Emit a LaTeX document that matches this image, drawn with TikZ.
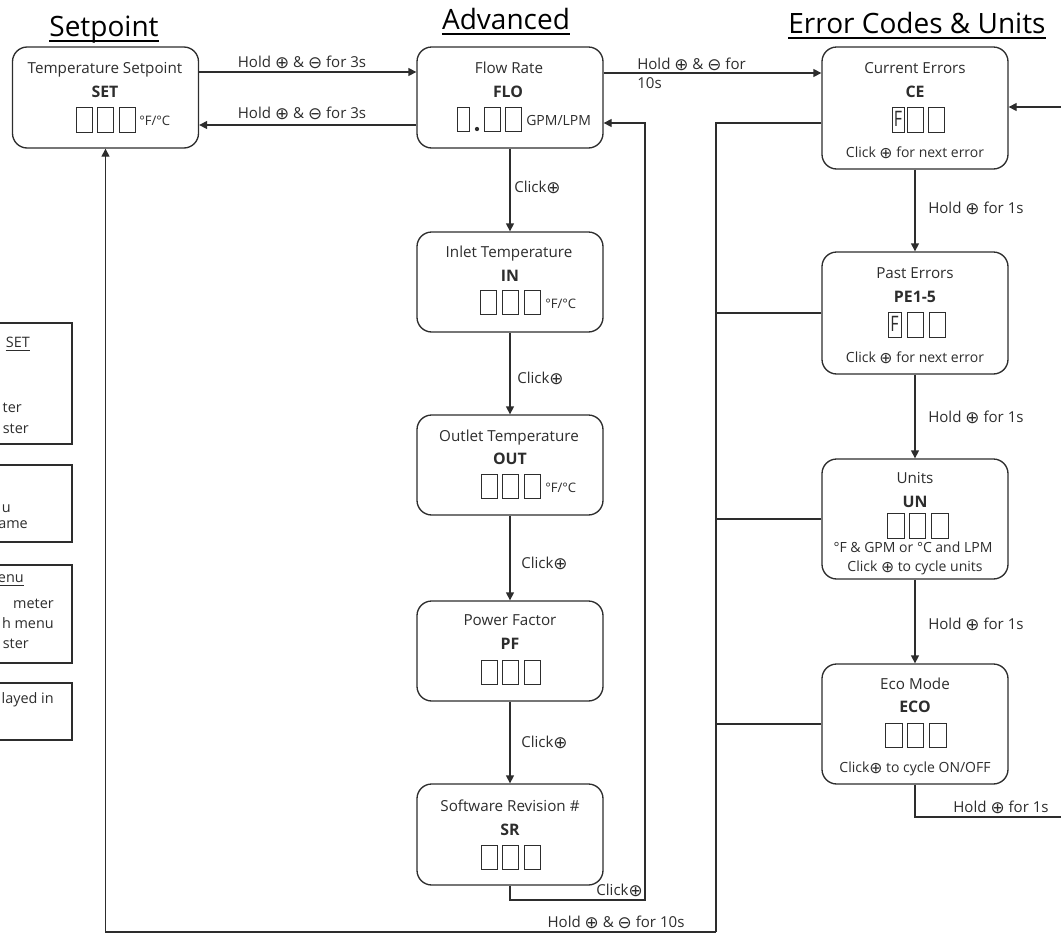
\documentclass[tikz,border=0pt]{standalone}
\usepackage{fontspec}
\setmainfont{Open Sans}
\newfontfamily\symf{DejaVu Sans}
\usetikzlibrary{arrows.meta}
\definecolor{ink}{RGB}{45,45,45}
\newcommand\cplus{{\symf\raisebox{-0.15ex}{\scalebox{1.12}{⊕}}}}
\newcommand\cminus{{\symf\raisebox{-0.15ex}{\scalebox{1.12}{⊖}}}}
\begin{document}
\begin{tikzpicture}[x=0.75pt,y=-0.75pt,
  box/.style={draw=ink,line width=1pt,rounded corners=11pt,minimum width=139.5pt,inner sep=0pt},
  legbox/.style={draw=ink,line width=0.9pt},
  dg/.style={draw=ink,line width=0.65pt},
  conn/.style={draw=ink,line width=1pt},
  arr/.style={conn,-{Triangle[length=6pt,width=6pt]}},
  lab/.style={font=\fontsize{11.3}{13}\selectfont,text=ink,inner sep=0pt},
  ttl/.style={font=\fontsize{11.4}{13}\selectfont,text=ink,inner sep=0pt},
  sml/.style={font=\fontsize{10.5}{12}\selectfont,text=ink,inner sep=0pt},
  unit/.style={font=\fontsize{9.8}{12}\selectfont,text=ink,inner sep=0pt},
  code/.style={font=\fontsize{11.9}{13}\selectfont\bfseries,text=ink,inner sep=0pt},
  head/.style={font=\fontsize{21}{24}\selectfont,text=black,inner sep=0pt},
  leg/.style={font=\fontsize{10.8}{12}\selectfont,text=ink,inner sep=0pt,anchor=base east},
  fch/.style={font=\fontsize{16}{16}\selectfont\addfontfeatures{FakeStretch=0.75},text=ink,inner sep=0pt}
]
\useasboundingbox (0,0) rectangle (1061,936);

% ---------- titles ----------
\node[head,anchor=base] (h1) at (104,36) {Setpoint};
\node[head,anchor=base] (h2) at (506,29) {Advanced};
\node[head,anchor=base] (h3) at (917,33) {Error Codes \& Units};
\foreach \h in {h1,h2,h3}{
  \draw[line width=1.5pt] ([yshift=-4pt]\h.base west) -- ([yshift=-4pt]\h.base east);
}

% ---------- legend (cut at left edge) ----------
\draw[legbox] (-40,323) rectangle (72,444);
\draw[legbox] (-40,465) rectangle (72,542);
\draw[legbox] (-40,565) rectangle (72,663);
\draw[legbox] (-40,683) rectangle (72,740);
\node[leg] (l1) at (30,347) {SET};
\draw[line width=0.7pt,ink] ([yshift=-2.5pt]l1.base west) -- ([yshift=-2.5pt]l1.base east);
\node[leg] (l2) at (22,412) {ter};
\node[leg] (l3) at (29,433) {ster};
\node[leg] (l4) at (11,512) {u};
\node[leg] (l5) at (28,528) {ame};
\node[leg] (l6) at (24,582) {enu};
\draw[line width=0.7pt,ink] ([yshift=-2.5pt]l6.base west) -- ([yshift=-2.5pt]l6.base east);
\node[leg] (l7) at (54,608) {meter};
\node[leg] (l8) at (54,628) {h menu};
\node[leg] (l9) at (29,648) {ster};
\node[leg] (l10) at (54,703) {layed in};

% ---------- boxes ----------
\node[box,minimum height=75.75pt] (setb) at (105.5,97.5) {};
\node[box,minimum height=75.75pt] (flo) at (510,97.5) {};
\node[box,minimum height=75pt] (in) at (510,282) {};
\node[box,minimum height=75pt] (out) at (510,465) {};
\node[box,minimum height=75pt] (pf) at (510,651) {};
\node[box,minimum height=75.75pt] (sr) at (510,834.5) {};
\node[box,minimum height=91.5pt] (ce) at (915,108) {};
\node[box,minimum height=91.5pt] (pe) at (915,313) {};
\node[box,minimum height=90pt] (un) at (915,519) {};
\node[box,minimum height=90pt] (eco) at (915,724) {};

% ---------- box contents ----------
% Setpoint
\node[ttl,anchor=base] (t1) at (105,73) {Temperature Setpoint};
\node[code,anchor=base] (c1) at (105,97) {SET};
\draw[dg] (76,107) rectangle (92,132) (97,107) rectangle (113,132) (119,107) rectangle (135,132);
\node[unit,anchor=base west] (u1) at (139,125) {°F/°C};
% Flow rate
\node[ttl,anchor=base] (t2) at (509,73) {Flow Rate};
\node[code,anchor=base] (c2) at (508,97) {FLO};
\draw[dg] (457,107) rectangle (469,131) (484,107) rectangle (500,131) (505,107) rectangle (521,131);
\fill[ink] (477,129) circle (1.6pt);
\node[sml,anchor=base west] (u2) at (526,125) {GPM/LPM};
% Inlet
\node[ttl,anchor=base] (t3) at (509,257) {Inlet Temperature};
\node[code,anchor=base] (c3) at (510,281) {IN};
\draw[dg] (480,290) rectangle (496,314) (502,290) rectangle (518,314) (524,290) rectangle (540,314);
\node[unit,anchor=base west] (u3) at (545,308) {°F/°C};
% Outlet
\node[ttl,anchor=base] (t4) at (509,441) {Outlet Temperature};
\node[code,anchor=base] (c4) at (510,464) {OUT};
\draw[dg] (481,474) rectangle (497,498) (502,474) rectangle (518,498) (524,474) rectangle (540,498);
\node[unit,anchor=base west] (u4) at (545,492) {°F/°C};
% Power factor
\node[ttl,anchor=base] (t5) at (510,625) {Power Factor};
\node[code,anchor=base] (c5) at (510,649) {PF};
\draw[dg] (481,660) rectangle (497,684) (502,660) rectangle (518,684) (524,660) rectangle (540,684);
% Software revision
\node[ttl,anchor=base] (t6) at (510,811) {Software Revision \#};
\node[code,anchor=base] (c6) at (510,835) {SR};
\draw[dg] (481,845) rectangle (497,869) (502,845) rectangle (518,869) (524,845) rectangle (540,869);
% Current errors
\node[ttl,anchor=base] (t7) at (915,73) {Current Errors};
\node[code,anchor=base] (c7) at (915,97) {CE};
\draw[dg] (892,107) rectangle (904,132) (907,107) rectangle (923,132) (928,107) rectangle (944,132);
\node[fch,anchor=base] (f7) at (898,126) {F};
\node[sml,anchor=base] (k7) at (915,157) {Click \cplus{} for next error};
% Past errors
\node[ttl,anchor=base] (t8) at (915,278) {Past Errors};
\node[code,anchor=base] (c8) at (915,302) {PE1-5};
\draw[dg] (888,312) rectangle (901,337) (907,312) rectangle (923,337) (929,312) rectangle (945,337);
\node[fch,anchor=base] (f8) at (894.5,331) {F};
\node[sml,anchor=base] (k8) at (915,362) {Click \cplus{} for next error};
% Units
\node[ttl,anchor=base] (t9) at (915,483) {Units};
\node[code,anchor=base] (c9) at (915,507) {UN};
\draw[dg] (887,513) rectangle (904,538) (909,513) rectangle (925,538) (931,513) rectangle (948,538);
\node[sml,anchor=base] (k9) at (913,552) {°F \& GPM or °C and LPM};
\node[sml,anchor=base] (k9b) at (915,571) {Click \cplus{} to cycle units};
% Eco mode
\node[ttl,anchor=base] (t10) at (915,689) {Eco Mode};
\node[code,anchor=base] (c10) at (915,712) {ECO};
\draw[dg] (885,723) rectangle (902,747) (907,723) rectangle (923,747) (929,723) rectangle (946,747);
\node[sml,anchor=base] (k10) at (915,772) {Click\cplus{} to cycle ON/OFF};

% ---------- connectors ----------
\draw[arr] (setb.east |- 0,72) -- (flo.west |- 0,72);
\node[lab,anchor=base] (e1) at (302,67) {Hold \cplus{} \& \cminus{} for 3s};
\draw[arr] (flo.west |- 0,125) -- (setb.east |- 0,125);
\node[lab,anchor=base] (e2) at (302,118) {Hold \cplus{} \& \cminus{} for 3s};

\draw[arr] (flo.east |- 0,73) -- (ce.west |- 0,73);
\node[lab,anchor=west,align=left] (e3) at (637,73) {Hold \cplus{} \& \cminus{} for\\[1pt]10s};

\draw[arr] (flo.south) -- (in.north);
\node[lab,anchor=base west] (e4) at (514,192) {Click\cplus};
\draw[arr] (in.south) -- (out.north);
\node[lab,anchor=base west] (e5) at (517,383) {Click\cplus};
\draw[arr] (out.south) -- (pf.north);
\node[lab,anchor=base west] (e6) at (521,568) {Click\cplus};
\draw[arr] (pf.south) -- (sr.north);
\node[lab,anchor=base west] (e7) at (521,747) {Click\cplus};

% SR loop back to Flow Rate
\coordinate (lp) at (645,900);
\draw[arr] (sr.south) |- (lp) |- (flo.east |- 0,123);
\node[lab,anchor=base east] (e8) at (643,895) {Click\cplus};

% bus to error codes and back to setpoint
\coordinate (bt) at (716,123);
\coordinate (bb) at (716,932);
\draw[conn] (ce.west |- bt) -- (bt) -- (bb);
\draw[conn] (pe.west) -- (bt |- pe.west);
\draw[conn] (un.west) -- (bt |- un.west);
\draw[conn] (eco.west) -- (bt |- eco.west);
\draw[arr] (bb) -| (setb.south);
\node[lab,anchor=base] (e9) at (616,927) {Hold \cplus{} \& \cminus{} for 10s};

% error-code chain
\draw[arr] (ce.south) -- (pe.north);
\node[lab,anchor=base west] (e10) at (928,213) {Hold \cplus{} for 1s};
\draw[arr] (pe.south) -- (un.north);
\node[lab,anchor=base west] (e11) at (928,422) {Hold \cplus{} for 1s};
\draw[arr] (un.south) -- (eco.north);
\node[lab,anchor=base west] (e12) at (928,629) {Hold \cplus{} for 1s};
\coordinate (rr) at (1066,817);
\draw[arr] (eco.south) |- (rr) |- (ce.east |- 0,107);
\node[lab,anchor=base] (e13) at (1001,812) {Hold \cplus{} for 1s};
\end{tikzpicture}
\end{document}
